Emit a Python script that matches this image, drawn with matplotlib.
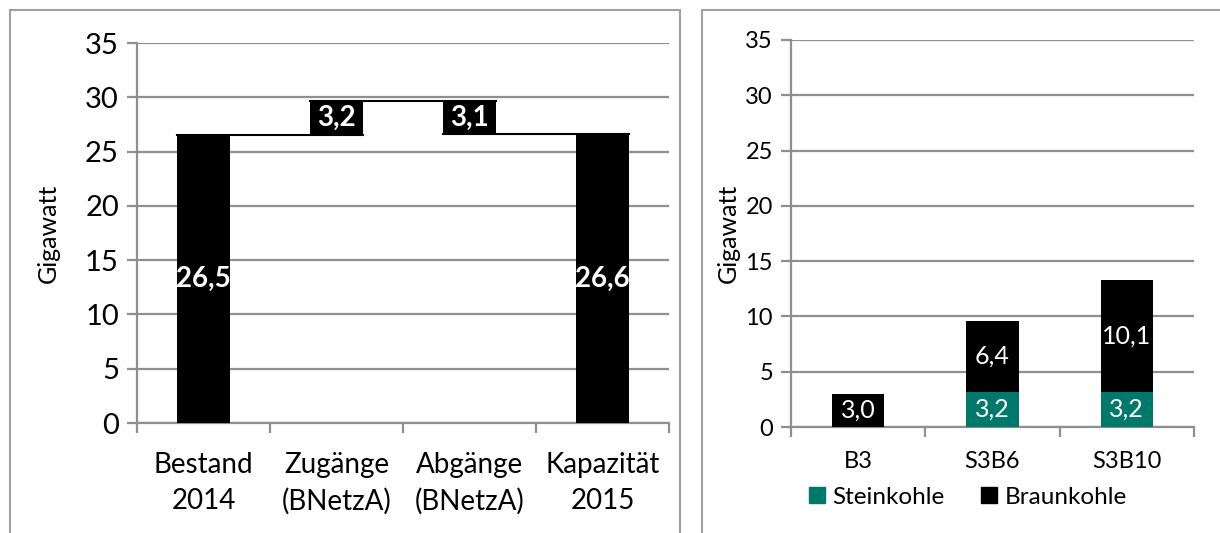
import matplotlib.pyplot as plt
import numpy as np
from matplotlib.patches import Rectangle, Patch

plt.rcParams['font.family'] = ['Lato', 'DejaVu Sans']

# left: waterfall
wf_labels = ['Bestand\n2014', 'Zugänge\n(BNetzA)', 'Abgänge\n(BNetzA)', 'Kapazität\n2015']
wf_values = [26.5, 3.2, 3.1, 26.6]   # start, additions, removals, end

# right: stacked bars
sc_labels = ['B3', 'S3B6', 'S3B10']
steinkohle = [0.0, 3.2, 3.2]
braunkohle = [3.0, 6.4, 10.1]

TEAL = '#00786C'
GRID = '#8f8f8f'


def fmt(v):
    return f'{v:.1f}'.replace('.', ',')


def style_axes(ax, n, tick_fs, lab_fs, pad):
    ax.set_xlim(0, n)
    ax.set_ylim(0, 35)
    ax.set_yticks(np.arange(0, 36, 5))
    ax.yaxis.grid(True, color=GRID, lw=1.6)
    ax.set_axisbelow(True)
    for s in ['top', 'right']:
        ax.spines[s].set_visible(False)
    for s in ['left', 'bottom']:
        ax.spines[s].set_color(GRID)
        ax.spines[s].set_linewidth(1.6)
    ax.set_xticks(np.arange(0, n + 1))
    ax.set_xticklabels([])
    ax.set_xticks(np.arange(n) + 0.5, minor=True)
    ax.tick_params(axis='x', which='major', length=7, width=1.6, color=GRID)
    ax.tick_params(axis='x', which='minor', length=0, pad=pad, labelsize=lab_fs)
    ax.tick_params(axis='y', length=7, width=1.6, color=GRID, labelsize=tick_fs, pad=6)


fig = plt.figure(figsize=(12.2, 5.33), dpi=100)

# panel frames
fig.add_artist(Rectangle((10 / 1220, -0.01), 670 / 1220, 1 - 10 / 533 + 0.01,
                         transform=fig.transFigure, fill=False, ec='#a0a0a0', lw=1.5))
fig.add_artist(Rectangle((702 / 1220, -0.01), 0.5, 1 - 10 / 533 + 0.01,
                         transform=fig.transFigure, fill=False, ec='#a0a0a0', lw=1.5))

# ---- left panel
ax1 = fig.add_axes([137 / 1220, 110 / 533, 532 / 1220, 380 / 533])
style_axes(ax1, 4, 21, 20, 21)
ax1.set_xticklabels(wf_labels, minor=True, linespacing=1.45)
ax1.set_ylabel('Gigawatt', fontsize=18, labelpad=18)

x = np.arange(4) + 0.5
w = 0.4
top_mid = wf_values[0] + wf_values[1]
bottoms = [0, wf_values[0], top_mid - wf_values[2], 0]
ax1.bar(x, wf_values, w, bottom=bottoms, color='black', zorder=3)
# connectors
ax1.plot([x[0] - w / 2, x[1] + w / 2], [wf_values[0]] * 2, color='black', lw=1.5, zorder=2)
ax1.plot([x[1] - w / 2, x[2] + w / 2], [top_mid] * 2, color='black', lw=1.5, zorder=2)
ax1.plot([x[2] - w / 2, x[3] + w / 2], [wf_values[3]] * 2, color='black', lw=1.5, zorder=2)
for xi, v, b in zip(x, wf_values, bottoms):
    ax1.text(xi, b + v / 2, fmt(v), color='white', fontsize=20, fontweight='bold',
             ha='center', va='center', zorder=4)

# ---- right panel
ax2 = fig.add_axes([791 / 1220, 106 / 533, 403 / 1220, 387 / 533])
style_axes(ax2, 3, 17, 17, 17)
ax2.set_xticklabels(sc_labels, minor=True)
ax2.set_ylabel('Gigawatt', fontsize=18, labelpad=4)

x2 = np.arange(3) + 0.5
w2 = 0.39
ax2.bar(x2, steinkohle, w2, color=TEAL, zorder=3)
ax2.bar(x2, braunkohle, w2, bottom=steinkohle, color='black', zorder=3)
for xi, s, b in zip(x2, steinkohle, braunkohle):
    if s > 0:
        ax2.text(xi, s / 2, fmt(s), color='white', fontsize=18, ha='center', va='center', zorder=4)
    ax2.text(xi, s + b / 2, fmt(b), color='white', fontsize=18, ha='center', va='center', zorder=4)

handles = [Patch(color=TEAL, label='Steinkohle'), Patch(color='black', label='Braunkohle')]
fig.legend(handles=handles, loc='center', bbox_to_anchor=(968 / 1220, 36 / 533), ncol=2,
           frameon=False, fontsize=17.5, handlelength=0.65, handleheight=0.65,
           handletextpad=0.3, columnspacing=1.5)

fig.savefig('out.png', dpi=100)
